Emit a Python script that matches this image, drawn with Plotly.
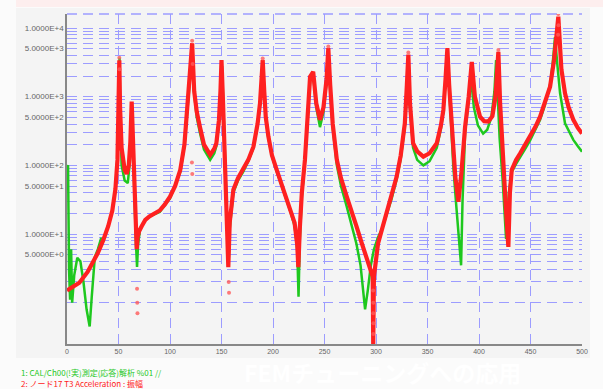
import plotly.graph_objects as go

# ---- data ----
fem_freq = [0, 5, 12, 20, 25, 30, 35, 40, 44, 47, 49, 50.2, 50.8, 51.5, 53, 56, 58, 60, 61.5, 62.8, 63.5,
            65, 66.5, 67.7, 68.5, 70, 72.5, 76, 80, 85, 90, 95, 100, 105, 110, 114, 116, 118.5, 121.5,
            123.5, 126, 129, 133, 139, 143, 145, 147.5, 149, 150, 151.5, 153, 155, 156.6, 158,
            161.5, 166, 171, 176, 181, 185, 187.4, 189, 190, 191.5, 193, 195.5, 199, 203.6, 208, 213, 217,
            221, 223.5, 224.6, 226, 228, 231, 234, 236, 239, 242, 245.6, 249, 252, 253.7, 255.5, 258, 262,
            266, 271.6, 276, 281, 286, 291, 294, 296.8, 297.3, 298, 302, 306, 310.4, 315, 320, 324, 328,
            330, 331.4, 333, 336, 340, 346, 352, 359, 363, 365.4, 367.5, 369.3, 371, 372.5, 375, 377, 380,
            383, 386.5, 390, 393, 396, 401, 405, 409, 413, 416, 418.8, 420.5, 423, 426, 428.5, 430, 431.8,
            436, 440, 445, 449.6, 455, 459.3, 464, 469, 473, 477, 480, 483.5, 487, 491.6, 496, 500]
fem_amp = [1.5, 1.65, 1.95, 2.8, 3.8, 5.3, 8, 13, 22, 45, 120, 600, 3400, 700, 180, 86, 75, 100, 220, 850, 400,
           40, 12, 6, 9, 11, 13, 16, 18, 20, 22, 27, 35, 50, 86, 200, 460, 1500, 6000,
           1200, 600, 365, 200, 142, 175, 210, 450, 1200, 3400, 800, 150, 30, 3.3, 15,
           44, 65, 86, 120, 187, 400, 800, 1800, 3400, 1200, 500, 263, 140, 86, 55, 35, 22,
           14.5, 7, 3.3, 12, 40, 120, 600, 1950, 2300, 800, 460, 700, 1800, 5100, 1500, 400, 120,
           65, 35, 21, 13, 7.5, 4.2, 3, 2.4, 0.25, 2.4, 7.3, 12, 20, 35, 68, 140, 410,
           1500, 4100, 800, 210, 160, 134, 150, 210, 380, 640, 1800, 5100, 1500, 700, 150, 68, 29.5,
           80, 365, 1000, 3200, 1000, 510, 440, 435, 520, 1000, 4500, 800, 120, 25, 6.5, 40, 86,
           120, 150, 200, 263, 370, 510, 800, 1400, 3500, 14600, 2500, 1120, 700, 460, 350, 290]

# scattered FEM samples that sit away from the drawn band (steep flanks)
fem_dot_freq = [68.0, 68.2, 68.4, 50.8, 51.0, 121.5, 122.0, 157.0, 157.3, 297.2, 297.4, 297.3, 297.5, 297.4,
                477.0, 477.2, 476.8, 331.4, 253.7, 418.8, 190.0, 121.3, 121.6]
fem_dot_amp = [1.6, 1.0, 0.7, 3700, 2500, 6500, 3000, 2.0, 1.4, 1.5, 1.0, 0.7, 0.5, 0.35,
               16000, 11000, 8000, 4400, 5400, 4800, 3600, 110, 75]

meas_freq = [0, 1, 2, 3, 4, 5, 7, 10, 13, 16, 19, 22, 24, 27, 30, 33, 36, 40, 44, 47, 49, 50.3, 51, 51.6, 53,
             56, 59, 61, 62.5, 63.3, 64, 65.5, 67, 68, 69, 71, 76, 80, 90, 100, 110, 114, 116, 118.5, 121.5,
             123.5, 126, 129, 133, 139, 143, 145, 147.5, 149, 150.5, 151.5, 153, 155, 156.8, 158, 161.5, 166,
             171, 176, 181, 185, 187.4, 189, 190.2, 191.5, 193, 195.5, 199, 203.6, 208, 213, 217, 221, 223.5,
             224.8, 226, 228, 231, 234, 236, 239, 242, 245.6, 249, 252, 253.7, 255.5, 258, 262, 266, 271.6,
             276, 281, 285, 289.4, 292, 295, 298, 302, 306, 310.4, 315, 320, 324, 328, 330, 331.6, 333, 336,
             340, 346, 352, 359, 363, 365.4, 367.5, 369.3, 371, 372.5, 375, 378, 381, 382.6, 384, 386.5, 390,
             392.5, 395, 399, 404, 408, 412, 415, 416.6, 418, 420, 423, 426.3, 429, 431.8, 436, 440, 445,
             449.6, 455, 459.3, 464, 469, 471.5, 473.8, 476, 478.7, 483.5, 487, 491.6, 496, 500]
meas_amp = [95, 100, 3, 1.1, 6, 1.0, 2.5, 4.5, 4, 2, 0.8, 0.45, 1.2, 4.6, 6, 8.5, 8.5, 13, 22, 45, 130, 800, 3700, 600, 100,
            60, 55, 110, 300, 700, 200, 30, 7, 3.3, 7, 12, 16, 18, 21, 33, 80, 190, 430, 1400, 4300,
            1100, 500, 300, 170, 120, 150, 190, 420, 1000, 2800, 1000, 150, 25, 3.3, 12, 40, 60,
            80, 115, 180, 380, 780, 1700, 3000, 1100, 480, 250, 135, 82, 52, 33, 21, 13, 6,
            1.22, 8, 35, 115, 550, 1700, 2100, 700, 360, 600, 1600, 4300, 1300, 350, 100, 50, 25,
            14, 7.2, 3.5, 0.8, 1.5, 3.5, 6, 9, 12, 19, 32, 62, 125, 370, 1200, 2600, 700, 180,
            120, 100, 115, 180, 340, 600, 1700, 5000, 1400, 500, 100, 25, 8, 3.5, 30, 300, 900,
            1700, 700, 380, 290, 330, 500, 1200, 3400, 1000, 250, 60, 8.5, 40, 80, 105, 130, 175,
            230, 330, 460, 750, 1500, 3000, 7400, 3000, 1130, 410, 320, 235, 190, 158]

x_ticks = [0, 50, 100, 150, 200, 250, 300, 350, 400, 450, 500]
y_grid = [m * 10 ** e for e in range(0, 4) for m in range(1, 10)] + [10000]
y_labels = {10000: "1.0000E+4", 5000: "5.0000E+3", 1000: "1.0000E+3", 500: "5.0000E+2",
            100: "1.0000E+2", 50: "5.0000E+1", 10: "1.0000E+1", 5: "5.0000E+0"}

label_1 = "1: CAL/Ch00(!実)測定(応答)解析 %01 //"
label_2 = "2: ノード17 T3 Acceleration : 振幅"
watermark = "FEMチューニングへの応用"

GREEN = "#1ec81e"
RED = "#ff2020"
GRID = "#9c9cff"

fig = go.Figure()
fig.add_trace(go.Scatter(x=meas_freq, y=meas_amp, mode="lines",
                         line=dict(color=GREEN, width=2.5), showlegend=False))
fig.add_trace(go.Scatter(x=fem_freq, y=fem_amp, mode="lines",
                         line=dict(color=RED, width=4.2), showlegend=False))
fig.add_trace(go.Scatter(x=fem_dot_freq, y=fem_dot_amp, mode="markers",
                         marker=dict(color="rgba(255,90,90,0.8)", size=4), showlegend=False))

L, T, PW, PH = 67, 14, 515, 330  # plot-area geometry in pixels


def px(xp):
    return (xp - L) / PW


def py(yp):
    return 1 - (yp - T) / PH


shapes = [
    dict(type="rect", xref="paper", yref="paper", x0=px(16), x1=px(603), y0=py(7), y1=py(0),
         fillcolor="#fdeeee", line=dict(width=0), layer="below"),
    dict(type="rect", xref="paper", yref="paper", x0=px(16), x1=px(590), y0=py(358), y1=py(8),
         fillcolor="#f4f4f4", line=dict(width=0), layer="below"),
    dict(type="line", xref="paper", yref="paper", x0=0, x1=1, y0=1, y1=1,
         line=dict(color=GRID, width=1.3, dash="10px,6px"), layer="below"),
]

annotations = [
    dict(text=label_1, xref="paper", yref="paper", x=px(19), y=py(372),
         xanchor="left", yanchor="middle", showarrow=False,
         font=dict(size=8, color=GREEN, family="Noto Sans CJK JP")),
    dict(text=label_2, xref="paper", yref="paper", x=px(19), y=py(383),
         xanchor="left", yanchor="middle", showarrow=False,
         font=dict(size=8, color=RED, family="Noto Sans CJK JP")),
    dict(text="<b>" + watermark + "</b>", xref="paper", yref="paper", x=px(242),
         y=py(372), xanchor="left", yanchor="middle", showarrow=False,
         font=dict(size=23, color="#ffffff", family="Noto Sans CJK JP")),
]

fig.update_layout(
    width=603, height=389,
    margin=dict(l=L, r=603 - L - PW, t=T, b=389 - T - PH),
    paper_bgcolor="#fbfbfb",
    plot_bgcolor="rgba(0,0,0,0)",
    shapes=shapes,
    annotations=annotations,
    showlegend=False,
    xaxis=dict(range=[0, 500], tickvals=x_ticks, ticktext=[str(v) for v in x_ticks],
               showgrid=True, gridcolor=GRID, gridwidth=1.3, griddash="10px,6px",
               showline=True, linecolor="#888888", linewidth=1.5, zeroline=False,
               ticks="", automargin=False,
               tickfont=dict(size=7, color="#666666", family="Liberation Sans")),
    yaxis=dict(type="log", range=[-0.602, 4.204], tickvals=y_grid,
               ticktext=[y_labels.get(v, "") for v in y_grid],
               showgrid=True, gridcolor=GRID, gridwidth=1.3, griddash="10px,6px",
               showline=True, linecolor="#888888", linewidth=1.5, zeroline=False,
               ticks="", automargin=False,
               tickfont=dict(size=8, color="#666666", family="Liberation Sans")),
)

fig.write_html("out.html", config={"displayModeBar": False},
               post_script="document.body.style.margin='0';document.body.style.overflow='hidden';")
